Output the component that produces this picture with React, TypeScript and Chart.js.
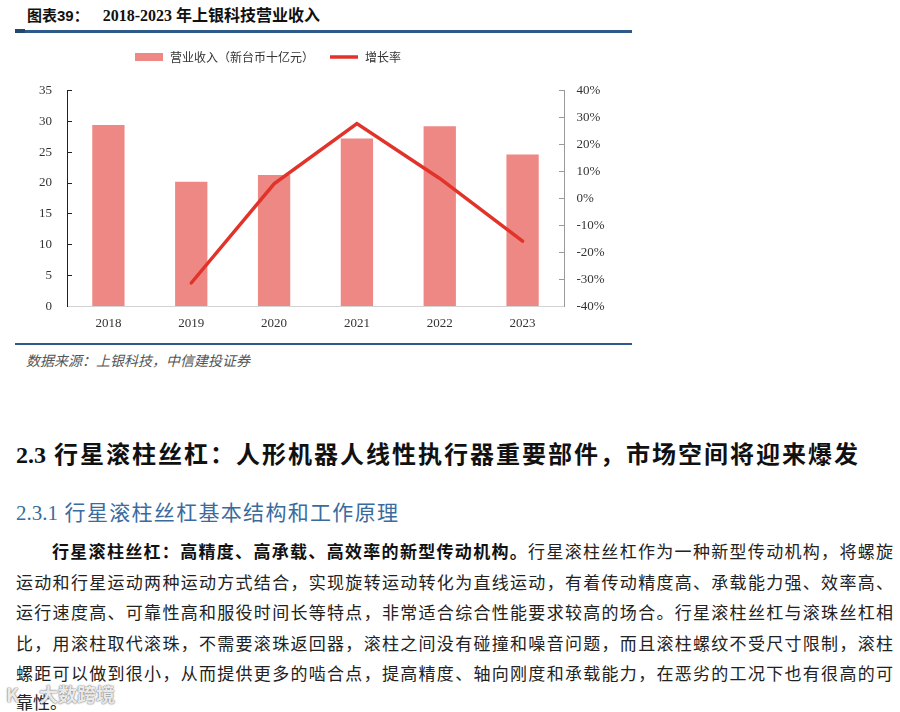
import React, { useEffect, useRef } from "react";
import { Chart, registerables } from "chart.js";

Chart.register(...registerables);

// ---- data ----
const years = ["2018", "2019", "2020", "2021", "2022", "2023"];
const revenue = [29.4, 20.2, 21.3, 27.2, 29.2, 24.6];
const growth: (number | null)[] = [null, -31.3, 5.4, 27.7, 7.4, -15.8];
const revenueLabel = "营业收入（新台币十亿元）";
const growthLabel = "增长率";
const leftMin = 0, leftMax = 35, leftStep = 5;
const rightMin = -40, rightMax = 40, rightStep = 10;

const titleA = "图表39：";
const titleB = "2018-2023 年上银科技营业收入";
const sourceText = "数据来源：上银科技，中信建投证券";
const heading = "2.3 行星滚柱丝杠：人形机器人线性执行器重要部件，市场空间将迎来爆发";
const subheading = "2.3.1 行星滚柱丝杠基本结构和工作原理";
const bodyBold = "行星滚柱丝杠：高精度、高承载、高效率的新型传动机构。";
const bodyLines = [
  "行星滚柱丝杠作为一种新型传动机构，将螺旋",
  "运动和行星运动两种运动方式结合，实现旋转运动转化为直线运动，有着传动精度高、承载能力强、效率高、",
  "运行速度高、可靠性高和服役时间长等特点，非常适合综合性能要求较高的场合。行星滚柱丝杠与滚珠丝杠相",
  "比，用滚柱取代滚珠，不需要滚珠返回器，滚柱之间没有碰撞和噪音问题，而且滚柱螺纹不受尺寸限制，滚柱",
  "螺距可以做到很小，从而提供更多的啮合点，提高精度、轴向刚度和承载能力，在恶劣的工况下也有很高的可",
  "靠性。",
];

const BAR_COLOR = "#EE8884";
const LINE_COLOR = "#E2332B";
const BLUE = "#2D5A88";
const SERIF = '"Liberation Serif", "Noto Sans CJK SC", serif';
const TICK_FONT = { family: '"Liberation Serif", "Noto Sans CJK SC", serif', size: 13 };

const legendPlugin = {
  id: "customLegend",
  afterDraw(chart: any) {
    const ctx = chart.ctx as CanvasRenderingContext2D;
    const ds = chart.data.datasets;
    ctx.save();
    ctx.font = '12px "Noto Sans CJK SC", sans-serif';
    ctx.textBaseline = "middle";
    let x = 121;
    const y = 21;
    ds.forEach((d: any) => {
      if (d.type === "line") {
        ctx.strokeStyle = d.borderColor;
        ctx.lineWidth = 3.5;
        ctx.beginPath();
        ctx.moveTo(x, y);
        ctx.lineTo(x + 28, y);
        ctx.stroke();
      } else {
        ctx.fillStyle = d.backgroundColor;
        ctx.fillRect(x, y - 4, 28, 8);
      }
      ctx.fillStyle = "#333";
      ctx.textAlign = "left";
      ctx.fillText(d.label, x + 35, y);
      x += 35 + ctx.measureText(d.label).width + 16;
    });
    ctx.restore();
  },
};

function ChartBox() {
  const ref = useRef<HTMLCanvasElement>(null);
  useEffect(() => {
    const chart = new Chart(ref.current as HTMLCanvasElement, {
      type: "bar",
      data: {
        labels: years,
        datasets: [
          {
            type: "bar",
            label: revenueLabel,
            data: revenue,
            backgroundColor: BAR_COLOR,
            yAxisID: "y",
            barPercentage: 0.39,
            categoryPercentage: 1,
            order: 2,
          } as any,
          {
            type: "line",
            label: growthLabel,
            data: growth,
            borderColor: LINE_COLOR,
            backgroundColor: LINE_COLOR,
            borderWidth: 3.5,
            pointRadius: 0,
            yAxisID: "y1",
            order: 1,
            borderCapStyle: "round",
          } as any,
        ],
      },
      options: {
        animation: false,
        responsive: false,
        layout: { padding: { top: 54.4, left: 0, right: 0, bottom: 0 } },
        plugins: { legend: { display: false }, tooltip: { enabled: false } },
        scales: {
          x: {
            grid: { drawOnChartArea: false, drawTicks: false },
            border: { color: "#d4d4d4", width: 1 },
            ticks: { font: TICK_FONT, color: "#333", padding: 9 },
            afterFit: (s: any) => { s.height = 33.5; },
          },
          y: {
            position: "left",
            min: leftMin,
            max: leftMax,
            grid: { drawOnChartArea: false, drawTicks: true, tickLength: -5, color: "#222" },
            border: { color: "#222", width: 1 },
            ticks: { stepSize: leftStep, font: TICK_FONT, color: "#333", padding: 20 },
            afterFit: (s: any) => { s.width = 53; },
          },
          y1: {
            position: "right",
            min: rightMin,
            max: rightMax,
            grid: { drawOnChartArea: false, drawTicks: true, tickLength: -5, color: "#9a9a9a" },
            border: { color: "#9a9a9a", width: 1 },
            ticks: {
              stepSize: rightStep,
              font: TICK_FONT,
              color: "#333",
              padding: 17.5,
              callback: (v: any) => `${Math.round(Number(v))}%`,
            },
            afterFit: (s: any) => { s.width = 68; },
          },
        },
      },
      plugins: [legendPlugin],
    });
    return () => chart.destroy();
  }, []);
  return (
    <canvas
      ref={ref}
      width={618}
      height={304}
      style={{ position: "absolute", left: 14, top: 36, width: 618, height: 304 }}
    />
  );
}

const justLine = (extra: React.CSSProperties): React.CSSProperties => ({
  position: "absolute",
  textAlign: "justify",
  textAlignLast: "justify" as any,
  whiteSpace: "normal",
  ...extra,
});

export default function App() {
  const bodyCenters = [553, 583.5, 614, 644.5, 675, 704];
  return (
    <div
      style={{
        position: "absolute",
        left: 0,
        top: 0,
        width: 900,
        height: 712,
        background: "#fff",
        overflow: "hidden",
        fontFamily: SERIF,
        color: "#222",
      }}
    >
      {/* chart title */}
      <div
        style={{
          position: "absolute",
          left: 27,
          top: 5,
          height: 22,
          lineHeight: "22px",
          fontWeight: 700,
          fontSize: 16,
          color: "#111",
          whiteSpace: "nowrap",
        }}
      >
        <span style={{ fontFamily: '"Liberation Sans", "Noto Sans CJK SC", sans-serif', fontSize: 15 }}>{titleA}</span>
        <span style={{ display: "inline-block", width: 14 }} />
        <span>{titleB}</span>
      </div>
      <div style={{ position: "absolute", left: 15, top: 29.5, width: 617, height: 3, background: BLUE }} />
      <div style={{ position: "absolute", left: 15, top: 28.5, width: 10, height: 4, background: "#24476d" }} />

      <ChartBox />

      <div style={{ position: "absolute", left: 15, top: 343, width: 617, height: 2, background: BLUE }} />
      <div
        style={{
          position: "absolute",
          left: 26,
          top: 352,
          height: 20,
          lineHeight: "20px",
          fontSize: 14,
          fontStyle: "italic",
          color: "#555",
          whiteSpace: "nowrap",
        }}
      >
        {sourceText}
      </div>

      {/* heading */}
      <div
        style={justLine({
          left: 16,
          top: 455 - 17,
          width: 842,
          height: 34,
          lineHeight: "34px",
          fontSize: 24,
          fontWeight: 700,
          color: "#111",
        })}
      >
        {heading}
      </div>

      {/* subheading */}
      <div
        style={justLine({
          left: 16,
          top: 513 - 15,
          width: 382,
          height: 30,
          lineHeight: "30px",
          fontSize: 21,
          color: "#3A6B9E",
        })}
      >
        {subheading}
      </div>

      {/* body */}
      {bodyLines.map((t, i) => {
        const isFirst = i === 0;
        const isLast = i === bodyLines.length - 1;
        const style: React.CSSProperties = isLast
          ? {
              position: "absolute",
              left: 16,
              top: bodyCenters[i] - 13,
              height: 26,
              lineHeight: "26px",
              fontSize: 17,
              whiteSpace: "nowrap",
            }
          : justLine({
              left: isFirst ? 52 : 16,
              top: bodyCenters[i] - 13,
              width: isFirst ? 841 : 877,
              height: 26,
              lineHeight: "26px",
              fontSize: 17,
            });
        return (
          <div key={i} style={style}>
            {isFirst ? <span style={{ fontWeight: 700, color: "#111" }}>{bodyBold}</span> : null}
            {t}
          </div>
        );
      })}

      {/* watermark */}
      <div
        style={{
          position: "absolute",
          left: 6,
          top: 681,
          height: 26,
          lineHeight: "26px",
          fontSize: 19,
          fontWeight: 700,
          fontFamily: '"Noto Sans CJK SC", sans-serif',
          color: "rgba(255,255,255,0.85)",
          textShadow: "0 0 2px #777, 0 0 1px #777",
          whiteSpace: "nowrap",
        }}
      >
        K<span style={{ display: "inline-block", width: 20 }} />大数跨境
      </div>
    </div>
  );
}
